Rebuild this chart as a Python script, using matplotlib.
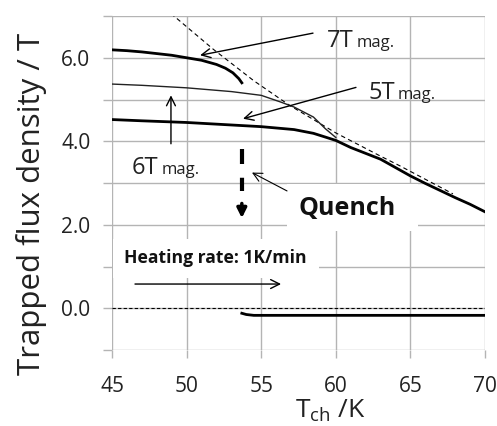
import numpy as np
import matplotlib.pyplot as plt

plt.rcParams['font.family'] = ['Open Sans', 'DejaVu Sans']

# 7T magnetization (thick), before quench
t_7t = [45, 46, 47, 48, 49, 50, 51, 52, 52.6, 53.1, 53.5, 53.7]
b_7t = [6.19, 6.17, 6.14, 6.10, 6.06, 6.00, 5.94, 5.84, 5.75, 5.64, 5.50, 5.40]

# 6T magnetization (thin)
t_6t = [45, 47, 50, 53, 55, 56.3, 57.2, 58.5, 59.3, 60]
b_6t = [5.37, 5.34, 5.28, 5.19, 5.10, 4.94, 4.82, 4.58, 4.30, 4.09]

# 5T magnetization (thick), merged curve above 60 K
t_5t = [45, 47, 50, 53, 55, 57.2, 58.5, 59.3, 60, 61, 62, 63, 64, 65, 66, 67, 68, 69, 70]
b_5t = [4.52, 4.49, 4.45, 4.39, 4.35, 4.28, 4.19, 4.10, 4.02, 3.85, 3.71, 3.57,
        3.37, 3.17, 2.99, 2.82, 2.65, 2.49, 2.31]

# envelope (dashed)
t_env = [48.95, 51.8, 54.5, 56.9, 60, 62.96, 64.3, 67.85]
b_env = [7.06, 6.20, 5.45, 4.86, 4.20, 3.65, 3.41, 2.74]

# after quench
t_q = [53.7, 54.0, 54.5, 60, 65, 70]
b_q = [-0.12, -0.15, -0.17, -0.17, -0.17, -0.17]

t_zero = [45, 70]
b_zero = [0, 0]

quench_t = 53.7
quench_dash = [3.82, 2.81]
quench_tip = 2.16

fig = plt.figure(figsize=(4.97, 4.26), dpi=100)
ax = fig.add_axes([0.2254, 0.1784, 0.7505, 0.784])

ax.plot(t_zero, b_zero, color='black', lw=0.8, ls=(0, (3, 2)))
ax.plot(t_env, b_env, color='black', lw=0.8, ls=(0, (4, 3)))
ax.plot(t_6t, b_6t, color='#222222', lw=1.0)
ax.plot(t_5t, b_5t, color='black', lw=2.0)
ax.plot(t_7t, b_7t, color='black', lw=2.0)
ax.plot(t_q, b_q, color='black', lw=2.0)

# quench arrow
ax.plot([quench_t, quench_t], quench_dash, color='black', lw=3, ls=(0, (3.6, 3.3)))
ax.annotate('', xy=(quench_t, quench_tip), xytext=(quench_t, quench_tip + 0.35),
            arrowprops=dict(arrowstyle='-|>', lw=2.5, color='black', mutation_scale=14,
                            shrinkA=0, shrinkB=0))

arr = dict(arrowstyle='->', lw=1.0, color='black', mutation_scale=16, shrinkA=0, shrinkB=0)

ax.set_xlim(45, 70)
ax.set_ylim(-1, 7)

mag_texts = []


def mag_label(x, y, big):
    t = ax.text(x, y, big, fontsize=17, va='baseline', ha='left', color='#222222')
    mag_texts.append((t, y))


ax.annotate('', xy=(50.9, 6.06), xytext=(58.47, 6.59), arrowprops=arr)
mag_label(59.4, 6.25, '7T')

ax.annotate('', xy=(53.78, 4.54), xytext=(61.35, 5.29), arrowprops=arr)
mag_label(62.16, 5.02, '5T')

ax.annotate('', xy=(48.95, 5.10), xytext=(48.95, 3.94), arrowprops=arr)
mag_label(46.34, 3.22, '6T')

# Quench label with white box
ax.fill_between([56.73, 65.5], 1.85, 2.98, color='white', zorder=3, lw=0)
ax.text(57.47, 2.38, 'Quench', fontsize=18, fontweight='bold', va='center',
        ha='left', color='#111111', zorder=4)
ax.annotate('', xy=(54.38, 3.25), xytext=(56.73, 2.81),
            arrowprops=dict(arr, lw=0.8), zorder=4)

# heating rate label
ax.fill_between([45.07, 58.9], 0.72, 1.66, color='white', zorder=3, lw=0)
ax.text(45.8, 1.2, 'Heating rate: 1K/min', fontsize=12.6, fontweight='bold',
        va='center', ha='left', color='#111111', zorder=4)
ax.annotate('', xy=(56.33, 0.58), xytext=(46.54, 0.58), arrowprops=arr, zorder=4)

ax.set_xticks(np.arange(45, 71, 5))
ax.set_yticks(np.arange(-1, 8, 1))
ax.set_yticklabels(['' if v % 2 else f'{v:.1f}' for v in np.arange(-1, 8, 1)])
ax.grid(True, color='#b4b4b4', lw=1.0)
ax.set_axisbelow(True)
for s in ax.spines.values():
    s.set_visible(False)
ax.tick_params(axis='both', color='#b4b4b4', width=1.0, labelsize=15, labelcolor='#222222')
ax.tick_params(axis='x', length=6, pad=13)
ax.tick_params(axis='y', length=6.5, pad=9)

ax.set_xlabel(r'T$_{\mathregular{ch}}$ /K', fontsize=19, color='#222222', va='bottom')
ax.xaxis.set_label_coords(0.584, -0.2216)
ax.set_ylabel('Trapped flux density / T', fontsize=22.5, color='#222222')
ax.yaxis.set_label_coords(-0.174, 0.437)

# put the small "mag." right after each big label, on the same baseline
fig.canvas.draw()
inv = ax.transData.inverted()
for t, y in mag_texts:
    bb = t.get_window_extent()
    x_end = inv.transform((bb.x1 + 3, bb.y0))[0]
    ax.text(x_end, y, 'mag.', fontsize=12, va='baseline', ha='left', color='#222222')

fig.savefig('out.png', dpi=100)
